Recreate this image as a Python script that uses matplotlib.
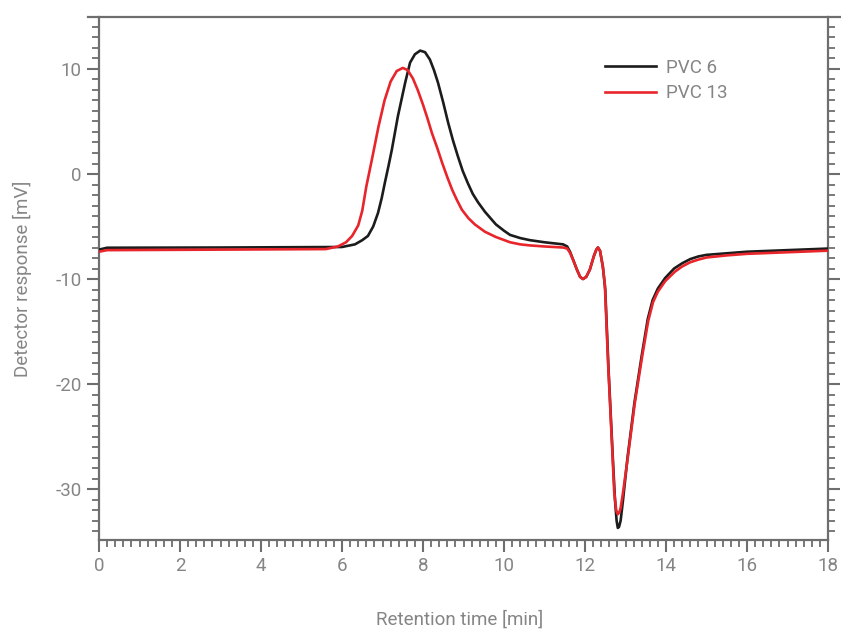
import matplotlib
matplotlib.use("Agg")
import matplotlib.pyplot as plt
from matplotlib.ticker import MultipleLocator

# Retention time [min] and detector response [mV]
pvc6_t = [0.0, 0.2, 3.0, 6.0, 6.32, 6.5, 6.64, 6.77, 6.89, 6.98, 7.06, 7.15, 7.23, 7.38, 7.56,
          7.68, 7.8, 7.93, 8.05, 8.17, 8.27, 8.37, 8.5, 8.62, 8.74, 8.86, 8.98, 9.11, 9.23,
          9.36, 9.53, 9.8, 10.0, 10.15, 10.4, 10.64, 11.0, 11.46, 11.56, 11.63, 11.72,
          11.8, 11.88, 11.95, 12.03, 12.12, 12.22, 12.28, 12.32, 12.37, 12.44, 12.5,
          12.58, 12.68, 12.74, 12.78, 12.81, 12.84, 12.88, 12.94, 13.05, 13.22, 13.4,
          13.55, 13.67, 13.8, 13.98, 14.2, 14.4, 14.6, 14.8, 15.0, 15.5, 16.0, 17.0, 18.0]
pvc6_v = [-7.2, -7.02, -7.0, -6.95, -6.7, -6.3, -5.9, -5.0, -3.7, -2.3, -0.8, 0.8, 2.3, 5.5, 8.7,
          10.6, 11.4, 11.75, 11.6, 10.9, 9.9, 8.7, 6.8, 4.9, 3.2, 1.7, 0.3, -0.9, -1.9,
          -2.7, -3.6, -4.8, -5.4, -5.8, -6.1, -6.3, -6.5, -6.7, -6.9, -7.4, -8.3,
          -9.1, -9.8, -10.0, -9.8, -9.1, -7.8, -7.2, -7.0, -7.3, -8.8, -11.0,
          -18.5, -26.5, -31.0, -33.0, -33.7, -33.6, -33.0, -31.0, -27.0, -21.8, -17.3,
          -13.8, -12.0, -10.9, -9.9, -9.0, -8.5, -8.1, -7.85, -7.7, -7.55, -7.4, -7.25, -7.1]

pvc13_t = [0.0, 0.2, 3.0, 5.6, 5.9, 6.1, 6.25, 6.4, 6.5, 6.6, 6.75, 6.9, 7.05, 7.2,
           7.35, 7.5, 7.62, 7.75, 7.87, 8.0, 8.11, 8.22, 8.35, 8.47, 8.6, 8.72, 8.84,
           8.96, 9.12, 9.28, 9.53, 9.8, 10.15, 10.4, 10.64, 11.0, 11.46, 11.56, 11.63,
           11.72, 11.8, 11.88, 11.95, 12.03, 12.12, 12.22, 12.28, 12.32, 12.37, 12.44,
           12.49, 12.57, 12.67, 12.72, 12.77, 12.81, 12.85, 12.88, 12.94, 13.06, 13.23,
           13.41, 13.56, 13.68, 13.8, 13.98, 14.22, 14.4, 14.6, 14.8, 15.0, 15.5, 16.0,
           17.0, 18.0]
pvc13_v = [-7.4, -7.25, -7.2, -7.15, -6.9, -6.5, -5.9, -4.9, -3.5, -1.2, 1.6, 4.5, 7.0, 8.8,
           9.8, 10.1, 9.9, 9.1, 8.0, 6.6, 5.3, 3.9, 2.5, 1.1, -0.3, -1.5, -2.5,
           -3.4, -4.2, -4.8, -5.5, -6.0, -6.5, -6.7, -6.8, -6.9, -7.0, -7.1, -7.5,
           -8.3, -9.1, -9.8, -10.0, -9.8, -9.1, -7.8, -7.2, -7.0, -7.3, -8.8,
           -10.5, -18.0, -26.0, -30.2, -32.0, -32.4, -32.2, -31.8, -30.3, -26.9, -21.8,
           -17.4, -14.0, -12.2, -11.2, -10.2, -9.3, -8.8, -8.4, -8.15, -7.95, -7.75, -7.6,
           -7.45, -7.3]

series_labels = ["PVC 6", "PVC 13"]
x_ticks = [0, 2, 4, 6, 8, 10, 12, 14, 16, 18]
y_ticks = [-30, -20, -10, 0, 10]

GRAY = "#6e6e6e"
TXT = "#858585"
plt.rcParams["font.family"] = ["Roboto", "DejaVu Sans"]
plt.rcParams["axes.unicode_minus"] = False

fig = plt.figure(figsize=(8.41, 6.29), dpi=100)
ax = fig.add_axes([99 / 841, 89 / 629, (828 - 99) / 841, (540 - 17) / 629])

ax.plot(pvc6_t, pvc6_v, color="#1c1c1c", lw=1.9, label=series_labels[0], zorder=3)
ax.plot(pvc13_t, pvc13_v, color="#e8252b", lw=1.9, label=series_labels[1], zorder=4)

ax.set_xlim(0, 18)
ax.set_ylim(-34.85, 14.95)
ax.set_xticks(x_ticks)
ax.set_yticks(y_ticks)
ax.xaxis.set_minor_locator(MultipleLocator(0.2))
ax.yaxis.set_minor_locator(MultipleLocator(1))

for s in ["left", "bottom", "right", "top"]:
    ax.spines[s].set_color(GRAY)
    ax.spines[s].set_linewidth(1.6)
ax.spines["top"].set_visible(False)
ax.plot([-0.015, 1.016], [1, 1], transform=ax.transAxes, clip_on=False,
        color=GRAY, lw=1.6)

ax.tick_params(axis="both", which="major", direction="out", length=8.5, width=1.5,
               color=GRAY, labelcolor=TXT, labelsize=13.5, pad=4)
ax.tick_params(axis="both", which="minor", direction="out", length=4.8, width=1.3,
               color=GRAY)
ax.tick_params(axis="y", which="both", right=True, labelright=False)
ax.tick_params(axis="x", which="both", top=False)

fig.text(460 / 841, 1 - 620 / 629, "Retention time [min]", ha="center", va="center",
         color=TXT, fontsize=13.5)
fig.text(22 / 841, 1 - 279 / 629, "Detector response [mV]", ha="center", va="center",
         rotation=90, color=TXT, fontsize=13.5)

leg = ax.legend(loc="upper left", bbox_to_anchor=(605 / 841, 1 - 59 / 629),
                bbox_transform=fig.transFigure, frameon=False, fontsize=13.5,
                handlelength=2.7, handletextpad=0.55, labelspacing=0.4,
                borderpad=0, borderaxespad=0)
for t in leg.get_texts():
    t.set_color(TXT)

fig.savefig("out.png", dpi=100)
